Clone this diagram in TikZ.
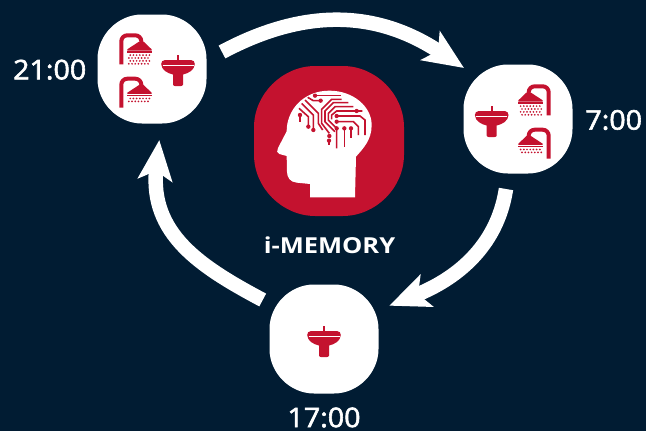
\documentclass[tikz,border=0pt]{standalone}
\usepackage{fontspec}
\newfontfamily\clockfont[FakeBold=2.2,FakeStretch=1.06]{Open Sans}
\newfontfamily\brandfont[FakeStretch=1.16]{Open Sans Bold}
\usetikzlibrary{arrows.meta}
\definecolor{nightblue}{HTML}{011C33}
\definecolor{iconred}{HTML}{C4122F}
\tikzset{
	blob/.style n args={2}{minimum size=#1pt,inner sep=0pt,path picture={
		\fill[#2,x=#1/109*1pt,y=#1/109*1pt,shift={(path picture bounding box.center)}]
			(-10,-54.5) -- (10,-54.5) .. controls (34,-54.5) and (54.5,-34) .. (54.5,-10)
			-- (54.5,10) .. controls (54.5,34) and (34,54.5) .. (10,54.5)
			-- (-10,54.5) .. controls (-34,54.5) and (-54.5,34) .. (-54.5,10)
			-- (-54.5,-10) .. controls (-54.5,-34) and (-34,-54.5) .. (-10,-54.5) -- cycle;}},
	clock/.style={text=white,font=\clockfont\fontsize{27}{27}\selectfont,inner sep=0pt},
	loop arrow/.style={white,line width=14.5pt,-{Stealth[length=40pt,width=34pt,inset=9pt]}},
	trace/.style={iconred,line width=1.6pt},
	pics/shower/.style={code={
		\draw[iconred,line width=4pt,rounded corners=6pt] (2,0) -- (2,-29) -- (22,-29) -- (22,-20);
		\fill[iconred] (19.5,-22.5) -- (24.5,-22.5) -- (32.3,-15) -- (32.3,-13.8) -- (8,-13.8) -- (8,-15) -- cycle;
		\fill[iconred] (8,-13) rectangle (32.3,-11.8);
		\foreach \row in {1,...,#1} {
			\foreach \col in {0,...,6} {
				\fill[iconred] ({9.5+\col*3.2+mod(\row,2)*1.4},{-9.2+(\row-1)*2.9}) circle (0.95);
			}
		}
	}},
	pics/sink/.style={code={
		\fill[iconred] (-0.8,-5) rectangle (0.8,1);
		\fill[iconred] (-13,0) -- (13,0) .. controls (15.5,0) and (16.8,2) .. (16.8,4)
			.. controls (16.8,10) and (10,13.5) .. (5,14.5) -- (5,24.5)
			.. controls (5,25.5) and (4,26) .. (3,26) -- (-3,26)
			.. controls (-4,26) and (-5,25.5) .. (-5,24.5) -- (-5,14.5)
			.. controls (-10,13.5) and (-16.8,10) .. (-16.8,4)
			.. controls (-16.8,2) and (-15.5,0) .. (-13,0) -- cycle;
		\draw[white,line width=0.5pt] (-15.5,5.7) -- (15.5,5.7);
	}}
}

\begin{document}
\begin{tikzpicture}[x=1pt,y=-1pt]
	\fill[nightblue] (0,0) rectangle (646,431);
	\useasboundingbox (0,0) rectangle (646,431);

	\node[blob={109}{white}] (bath21) at (152,69) {};
	\node[blob={109}{white}] (bath7) at (518,119) {};
	\node[blob={109}{white}] (bath17) at (324,339) {};
	\node[blob={150}{iconred}] (memory) at (329,141) {};

	\pic at (119.3,64.3) {shower=4};
	\pic at (119.3,107.7) {shower=2};
	\pic at (178,60) {sink};

	\pic[xscale=-1] at (550.7,115.3) {shower=4};
	\pic[xscale=-1] at (550.7,158.7) {shower=2};
	\pic at (491.7,111) {sink};

	\pic at (324,331) {sink};

	\draw[loop arrow] ([shift={(70,-17)}]bath21.center) .. controls +(88,-47) and +(-83,-55) .. ([shift={(-54,-51)}]bath7.center);
	\draw[loop arrow] ([shift={(-12,70)}]bath7.center) .. controls +(-9,59) and +(65,-26) .. ([shift={(65.3,-33.3)}]bath17.center);
	\draw[loop arrow] ([shift={(-61.3,-39)}]bath17.center) .. controls +(-62,-33) and +(-10,94) .. ([shift={(7.3,71)}]bath21.center);

	\begin{scope}[shift={(240,60)},scale=1/3]
		\fill[white] (210,412) -- (210,372) -- (170,368) .. controls (150,366) and (141,352) .. (141,335)
			-- (140,288) -- (118,282) .. controls (110,280) and (110,272) .. (114,264)
			-- (140,214) .. controls (140,150) and (190,92) .. (268,92)
			.. controls (340,92) and (395,140) .. (395,195)
			.. controls (395,240) and (370,265) .. (348,290) -- (345,412) -- cycle;
	\end{scope}

	\begin{scope}[shift={(285,80)},scale=1/3]
		\draw[trace] (90,47) -- (168,47);
		\draw[trace] (68,52) -- (85,62) -- (107,62);
		\draw[trace] (170,58) -- (140,58) -- (110,88) -- (110,130) -- (133,160);
		\draw[trace] (190,68) -- (145,68) -- (120,93) -- (120,125) -- (150,155);
		\draw[trace] (205,80) -- (150,80) -- (130,100) -- (130,120) -- (155,145) -- (155,205);
		\draw[trace] (232,93) -- (155,93) -- (140,105) -- (140,118);
		\draw[trace] (155,108) -- (225,108) -- (240,120) -- (240,165);
		\draw[trace] (155,125) -- (205,125) -- (220,140) -- (220,165);
		\draw[trace] (178,145) -- (178,200);
		\draw[trace] (198,145) -- (198,175);
		\draw[trace] (60,60) -- (100,100) -- (100,130) -- (113,150);
		\draw[trace] (50,70) -- (85,105) -- (85,150);
		\draw[trace] (42,85) -- (70,110) -- (70,140);
		\draw[trace] (45,105) -- (45,125);
		\draw[trace] (132,180) -- (132,195);
		\foreach \dotx/\doty in {90/47,107/62,133/168,155/145,155/108,155/125,178/145,198/145,85/150,70/140,45/105,132/182,215/93} {
			\fill[iconred] (\dotx,\doty) circle (6.5);
		}
	\end{scope}

	\node[text=white,font=\brandfont\fontsize{22}{22}\selectfont,inner sep=0pt] (memorylabel) at (329.5,245) {i-MEMORY};
	\node[clock] (clock21) at (49.7,69.7) {21:00};
	\node[clock] (clock7) at (613.7,120) {7:00};
	\node[clock] (clock17) at (324,417.5) {17:00};
\end{tikzpicture}
\end{document}
